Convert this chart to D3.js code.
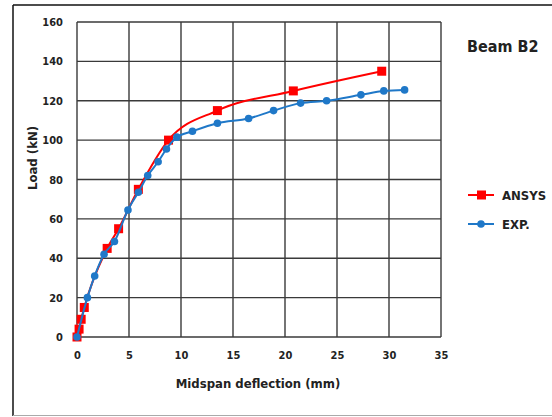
<!DOCTYPE html>
<html>
<head>
<meta charset="utf-8">
<script src="https://cdn.jsdelivr.net/npm/d3@7"></script>
<style>
  body { margin: 0; background: #fff; }
  text { font-family: "Liberation Sans Narrow", "DejaVu Sans Condensed", sans-serif; fill: #222; }
</style>
</head>
<body>
<div id="chart-container"></div>
<script>
// Series data: [deflection mm, load kN]
const ansysData = [[0,0],[0.2,4],[0.4,9],[0.7,15],[2.9,45],[4,55],[5.9,75],[8.8,100],[13.5,115],[20.8,125],[29.3,135]];
const expData = [[0,0],[1,20],[1.7,31],[2.6,42],[3.6,48.5],[4.9,64.5],[5.9,73.5],[6.8,82],[7.8,89],[8.6,95.5],[9.6,101.5],[11.1,104.5],[13.5,108.6],[16.5,111],[18.9,115],[21.5,118.8],[24,120],[27.3,123],[29.5,125],[31.5,125.5]];
const xTicks = [0, 5, 10, 15, 20, 25, 30, 35];
const yTicks = [0, 20, 40, 60, 80, 100, 120, 140, 160];
const seriesNames = ['ANSYS', 'EXP.'];

const svg = d3.select('#chart-container').append('svg').attr('width', 552).attr('height', 417);

// outer frame
svg.append('line').attr('x1', 13).attr('x2', 552).attr('y1', 5).attr('y2', 5).attr('stroke', '#111').attr('stroke-width', 1.5);
svg.append('line').attr('x1', 13).attr('x2', 13).attr('y1', 5).attr('y2', 416).attr('stroke', '#111').attr('stroke-width', 1.5);
svg.append('line').attr('x1', 13).attr('x2', 552).attr('y1', 415.5).attr('y2', 415.5).attr('stroke', '#aaa').attr('stroke-width', 1);

const margin = { top: 22, left: 77, right: 441, bottom: 337 };
const xScale = d3.scaleLinear().domain([0, 35]).range([margin.left, margin.right]);
const yScale = d3.scaleLinear().domain([0, 160]).range([margin.bottom, margin.top]);

// gridlines
svg.append('g').selectAll('line').data(xTicks).join('line')
  .attr('x1', d => xScale(d)).attr('x2', d => xScale(d))
  .attr('y1', margin.top).attr('y2', margin.bottom)
  .attr('stroke', '#3a3a3a').attr('stroke-width', 1.4);
svg.append('g').selectAll('line').data(yTicks).join('line')
  .attr('x1', margin.left).attr('x2', margin.right)
  .attr('y1', d => yScale(d)).attr('y2', d => yScale(d))
  .attr('stroke', '#3a3a3a').attr('stroke-width', 1.4);

// axes labels
const xAxis = d3.axisBottom(xScale).tickValues(xTicks).tickSize(0).tickPadding(14);
const yAxis = d3.axisLeft(yScale).tickValues(yTicks).tickSize(0).tickPadding(14);
svg.append('g').attr('transform', `translate(0, ${margin.bottom})`).call(xAxis)
  .call(g => g.select('.domain').remove())
  .selectAll('text').attr('font-size', 11).attr('font-weight', 'bold').attr('fill', '#333');
svg.append('g').attr('transform', `translate(${margin.left}, 0)`).call(yAxis)
  .call(g => g.select('.domain').remove())
  .selectAll('text').attr('font-size', 11).attr('font-weight', 'bold').attr('fill', '#333');

svg.append('text').attr('x', 258).attr('y', 388).attr('text-anchor', 'middle')
  .attr('font-size', 13).attr('font-weight', 'bold').text('Midspan deflection (mm)');
svg.append('text').attr('transform', 'translate(37, 158) rotate(-90)').attr('text-anchor', 'middle')
  .attr('font-size', 13).attr('font-weight', 'bold').text('Load (kN)');
svg.append('text').attr('x', 467).attr('y', 52)
  .attr('font-size', 16).attr('font-weight', 'bold').attr('fill', '#111').text('Beam B2');

const line = d3.line().x(d => xScale(d[0])).y(d => yScale(d[1])).curve(d3.curveMonotoneX);

// ANSYS
svg.append('path').datum(ansysData).attr('d', line)
  .attr('fill', 'none').attr('stroke', '#ff0000').attr('stroke-width', 2);
svg.append('g').selectAll('rect').data(ansysData).join('rect')
  .attr('x', d => xScale(d[0]) - 4.5).attr('y', d => yScale(d[1]) - 4.5)
  .attr('width', 9).attr('height', 9).attr('fill', '#ff0000');

// EXP
svg.append('path').datum(expData).attr('d', line)
  .attr('fill', 'none').attr('stroke', '#1f78c8').attr('stroke-width', 2);
svg.append('g').selectAll('circle').data(expData).join('circle')
  .attr('cx', d => xScale(d[0])).attr('cy', d => yScale(d[1]))
  .attr('r', 3.8).attr('fill', '#1f78c8');

// legend
const legend = svg.append('g').selectAll('g').data(seriesNames).join('g')
  .attr('transform', (d, i) => `translate(468, ${195 + i * 29})`);
legend.append('line').attr('x1', 0).attr('x2', 26).attr('y1', 0).attr('y2', 0)
  .attr('stroke', (d, i) => i === 0 ? '#ff0000' : '#1f78c8').attr('stroke-width', 2);
legend.filter((d, i) => i === 0).append('rect').attr('x', 9).attr('y', -4.5).attr('width', 9).attr('height', 9).attr('fill', '#ff0000');
legend.filter((d, i) => i === 1).append('circle').attr('cx', 13).attr('cy', 0).attr('r', 3.8).attr('fill', '#1f78c8');
legend.append('text').attr('x', 34).attr('y', 5).attr('font-size', 13).attr('font-weight', 'bold')
  .attr('fill', '#222').text(d => d);
</script>
</body>
</html>
